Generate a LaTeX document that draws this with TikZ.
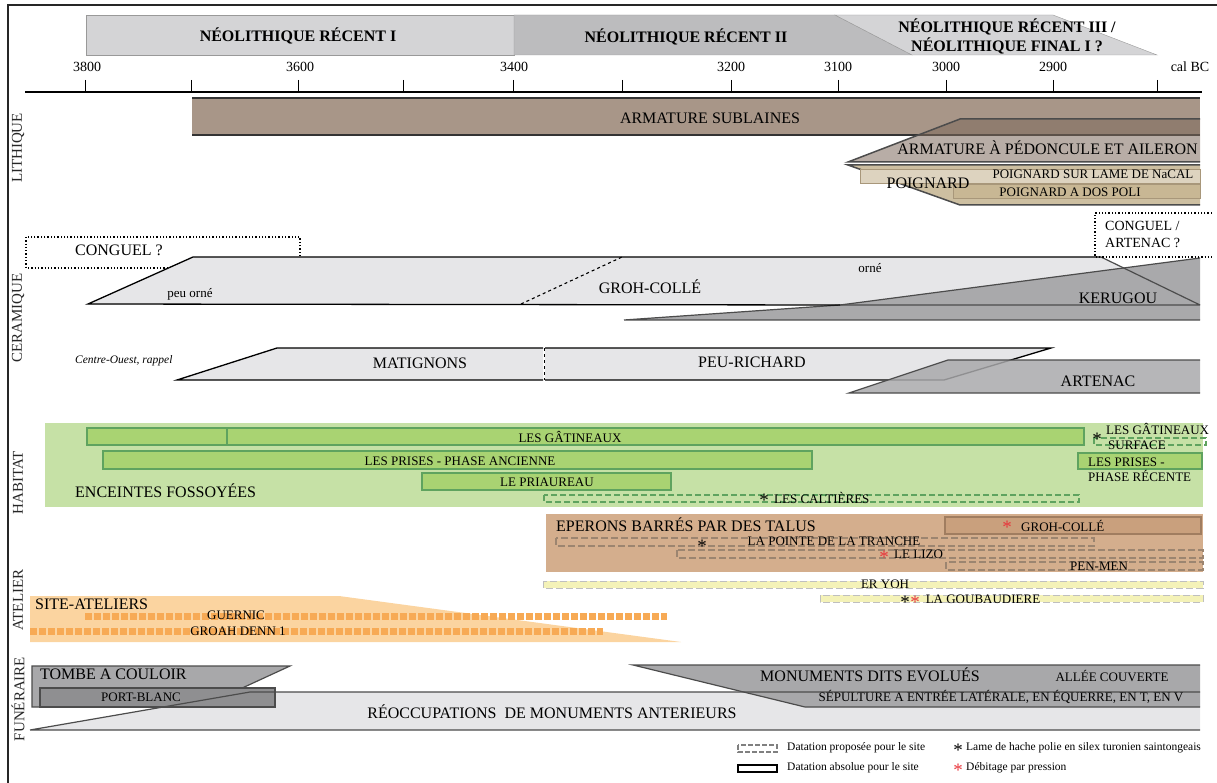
\documentclass[tikz,border=0pt]{standalone}
\usepackage{fontspec}
\setmainfont{Liberation Serif}
\usetikzlibrary{positioning}
% couleurs
\definecolor{hdrlight}{HTML}{D4D4D6}
\definecolor{hdrdark}{HTML}{BCBCBE}
\definecolor{lithbrown}{HTML}{A89688}
\definecolor{lithdark}{HTML}{7E6A5C}
\definecolor{poignard}{HTML}{CDBFA1}
\definecolor{nacal}{HTML}{DDD3BF}
\definecolor{dospoli}{HTML}{C8B794}
\definecolor{poignardline}{HTML}{A8977A}
\definecolor{ceralight}{HTML}{E6E6E8}
\definecolor{ceradark}{HTML}{A9A9AB}
\definecolor{habbg}{HTML}{C6E1A6}
\definecolor{habbar}{HTML}{A9D372}
\definecolor{habline}{HTML}{5FA35F}
\definecolor{eperon}{HTML}{D4AE8D}
\definecolor{eperonbar}{HTML}{C9A07D}
\definecolor{eperonline}{HTML}{A07D60}
\definecolor{epdashc}{HTML}{9C8570}
\definecolor{eryoh}{HTML}{F4F2B8}
\definecolor{atelier}{HTML}{FBD4A0}
\definecolor{atelierdash}{HTML}{F7AA55}
\definecolor{funedark}{HTML}{A8A8AA}
\definecolor{funeport}{HTML}{8F8F91}
\definecolor{starred}{HTML}{E8343A}
\begin{document}
\begin{tikzpicture}[x=1pt, y=-1pt,
  hdr/.style={font=\fontsize{16}{19}\selectfont\bfseries, align=center, inner sep=0pt},
  big/.style={font=\fontsize{16}{18}\selectfont, inner sep=0pt},
  mid/.style={font=\fontsize{14}{17}\selectfont, inner sep=0pt},
  sml/.style={font=\fontsize{13}{15}\selectfont, inner sep=0pt},
  tny/.style={font=\fontsize{11.5}{13}\selectfont, inner sep=0pt},
  sect/.style={rotate=90, font=\fontsize{15}{16}\selectfont, inner sep=0pt, text=black!85},
  star/.style={font=\fontsize{19}{19}\selectfont, inner sep=0pt},
  habbox/.style={draw=habline, fill=habbar, line width=1.6pt},
  habdash/.style={draw=habline, line width=1.5pt, dash pattern=on 6pt off 3pt},
  epdash/.style={draw=epdashc, line width=1.3pt, dash pattern=on 7pt off 3pt},
  yldash/.style={draw=black!25, fill=eryoh, line width=1pt, dash pattern=on 7pt off 3pt},
  oradash/.style={draw=atelierdash, line width=7pt, dash pattern=on 7pt off 2pt},
  edge/.style={draw=gray!60!black, line width=1.2pt}
]
\useasboundingbox (0,0) rectangle (1217,783);
\draw[line width=1.6pt, black!85] (8,783) -- (8,5) -- (1217,5);

% periodes
\filldraw[fill=hdrlight, draw=gray!80] (86,15) rectangle (514,55);
\filldraw[fill=hdrdark, draw=gray!80] (514,15) -- (835,15) -- (912,55) -- (514,55) -- cycle;
\filldraw[fill=hdrlight, draw=gray!80] (835,15) -- (1053,15) -- (1157,55) -- (912,55) -- cycle;
\node[hdr] (nr1) at (298,36) {NÉOLITHIQUE RÉCENT I};
\node[hdr] (nr2) at (686,37) {NÉOLITHIQUE RÉCENT II};
\node[hdr] (nr3) at (1007,36) {NÉOLITHIQUE RÉCENT III /\\NÉOLITHIQUE FINAL I ?};

% axe
\draw[line width=1.3pt] (25,92) -- (1202,92);
\foreach \x in {85,191,298,403,513,622,731,838,946,1053,1157}
  \draw[line width=1pt] (\x,80) -- (\x,92);
\foreach \x/\a in {87/3800,300/3600,514/3400,731/3200,838/3100,946/3000,1053/2900}
  \node[mid] (a\a) at (\x,67) {\a};
\node[mid] (calbc) at (1190,67) {cal BC};

% rubriques
\node[sect] (lith) at (18,148) {LITHIQUE};
\node[sect] (cera) at (18,318) {CERAMIQUE};
\node[sect] (habi) at (18,483) {HABITAT};
\node[sect] (atel) at (18,600) {ATELIER};
\node[sect] (fune) at (18,699) {FUNÉRAIRE};

% lithique
\fill[lithbrown] (192,98) rectangle (1200,135);
\draw[line width=2pt, black!80] (192,98) -- (1200,98) (192,135) -- (1200,135);
\fill[lithdark, fill opacity=0.55] (848,162) -- (960,119) -- (1200,119) -- (1200,162) -- cycle;
\draw[edge, line width=1.5pt] (1200,162) -- (848,162) -- (960,119) -- (1200,119);
\filldraw[fill=poignard, edge, line width=1.5pt] (1200,165) -- (848,165) -- (960,205) -- (1200,205);
\filldraw[fill=nacal, draw=poignardline] (860,169) rectangle (1200,183);
\filldraw[fill=dospoli, draw=poignardline] (953,184) rectangle (1200,198);
\node[big] (sublaines) at (710,118) {ARMATURE SUBLAINES};
\node[big, anchor=east] (pedoncule) at (1198,148) {ARMATURE À PÉDONCULE ET AILERON};
\node[big] (poign) at (928,183) {POIGNARD};
\node[sml] (nacalt) at (1093,174) {POIGNARD SUR LAME DE NaCAL};
\node[sml] (dospolit) at (1070,192) {POIGNARD A DOS POLI};

% ceramique
\draw[dotted, line width=1.3pt] (26,237) rectangle (300,268);
\node[big, anchor=west] (conguel) at (75,250) {CONGUEL ?};
\fill[ceralight] (88,304) -- (193,257) -- (1101,257) -- (1200,305) -- (88,305) -- cycle;
\fill[ceradark] (624,320) -- (840,305) -- (1200,258) -- (1200,320) -- cycle;
\draw[edge] (624,320) -- (840,305) -- (1200,258) (624,320) -- (1200,320);
\draw[line width=1.3pt] (840,305) -- (88,304) -- (193,257) -- (1101,257);
\draw[edge] (840,305) -- (1200,305) (1101,257) -- (1200,305);
\draw[dashed, line width=1.1pt] (521,304) -- (622,257);
\draw[dotted, line width=1.3pt] (1212,213) -- (1095,213) -- (1095,257) -- (1212,257);
\node[sml] (peuorne) at (190,294) {peu orné};
\node[big] (grohcolle) at (650,287) {GROH-COLLÉ};
\node[sml] (orne) at (870,268) {orné};
\node[big] (kerugou) at (1118,298) {KERUGOU};
\node[mid, anchor=west, align=left] (congart) at (1105,234) {CONGUEL /\\ARTENAC ?};

\filldraw[fill=ceralight, line width=1.3pt] (543,380) -- (177,380) -- (277,348) -- (543,348);
\filldraw[fill=ceralight, line width=1.3pt] (545,348) -- (1051,348) -- (944,380) -- (545,380);
\draw[dashed, line width=1pt] (544,348) -- (544,380);
\fill[ceradark, fill opacity=0.85] (849,393) -- (948,360) -- (1200,360) -- (1200,393) -- cycle;
\draw[edge] (1200,360) -- (948,360) -- (849,393) -- (1200,393);
\node[font=\fontsize{11.5}{13}\selectfont\itshape, inner sep=0pt, anchor=west] (rappel) at (75,361) {Centre-Ouest, rappel};
\node[big] (matignons) at (420,363) {MATIGNONS};
\node[big] (peurichard) at (752,362) {PEU-RICHARD};
\node[big] (artenac) at (1098,381) {ARTENAC};

% habitat
\fill[habbg] (45,423) rectangle (1203,507);
\filldraw[habbox] (87,428) rectangle (1084,445);
\draw[habline, line width=1.6pt] (227,428) -- (227,445);
\filldraw[habbox] (103,451) rectangle (812,469);
\filldraw[habbox] (422,473) rectangle (671,490);
\draw[habdash] (544,495) rectangle (1079,502);
\draw[habdash] (1094,438) rectangle (1206,445);
\filldraw[habbox] (1078,453) rectangle (1202,469);
\node[sml] (gatineaux) at (570,437) {LES GÂTINEAUX};
\node[sml] (prisesa) at (460,461) {LES PRISES - PHASE ANCIENNE};
\node[sml] (priaureau) at (547,482) {LE PRIAUREAU};
\node[star] (st1) at (764,500) {*};
\node[sml, anchor=west] (caltieres) at (774,498) {LES CALTIÈRES};
\node[star] (st2) at (1097,439) {*};
\node[sml, anchor=west] (gatsurf) at (1106,429) {LES GÂTINEAUX};
\node[sml, anchor=west] (surface) at (1108,445) {SURFACE};
\node[sml, anchor=west, align=left] (prisesr) at (1088,470) {LES PRISES -\\PHASE RÉCENTE};
\node[big, anchor=west] (enceintes) at (75,491) {ENCEINTES FOSSOYÉES};

% eperons
\fill[eperon] (546,514) rectangle (1203,572);
\filldraw[fill=eperonbar, draw=eperonline, line width=1.3pt] (945,517) rectangle (1201,534);
\draw[epdash] (556,538) rectangle (1094,546);
\draw[epdash] (677,550) rectangle (1203,558);
\draw[epdash] (946,562) rectangle (1203,570);
\node[big, anchor=west] (eperons) at (556,525) {EPERONS BARRÉS PAR DES TALUS};
\node[star, text=starred] (st3) at (1007,527) {*};
\node[sml, anchor=west] (grohc) at (1021,526) {GROH-COLLÉ};
\node[star] (st4) at (702,546) {*};
\node[sml] (pointe) at (834,541) {LA POINTE DE LA TRANCHE};
\node[star, text=starred] (st5) at (884,557) {*};
\node[sml, anchor=west] (lizo) at (894,554) {LE LIZO};
\node[sml] (penmen) at (1099,566) {PEN-MEN};

% atelier
\draw[yldash] (543,581) rectangle (1203,588);
\draw[yldash] (820,595) rectangle (1203,602);
\node[sml] (eryoht) at (885,584) {ER YOH};
\node[star] (st6) at (905,602) {*};
\node[star, text=starred] (st7) at (915,602) {*};
\node[sml] (goubau) at (983,599) {LA GOUBAUDIERE};
\fill[atelier] (30,596) -- (339,596) -- (681,642) -- (30,642) -- cycle;
\draw[oradash] (85,616) -- (667,616);
\draw[oradash] (30,631) -- (603,631);
\node[big, anchor=west] (siteat) at (35,604) {SITE-ATELIERS};
\node[sml] (guernic) at (236,615) {GUERNIC};
\node[sml] (groah) at (238,631) {GROAH DENN 1};

% funeraire
\fill[ceralight] (30,730) -- (250,692) -- (1200,692) -- (1200,730) -- cycle;
\filldraw[fill=funedark, edge] (32,666) -- (290,666) -- (201,707) -- (32,707) -- cycle;
\filldraw[fill=funeport, edge] (40,688) rectangle (275,707);
\filldraw[fill=funedark, edge] (1200,707) -- (805,707) -- (633,665) -- (1200,665);
\draw[edge] (30,730) -- (250,692) -- (1200,692) (30,730) -- (1200,730);
\node[big, anchor=west] (tombe) at (40,674) {TOMBE A COULOIR};
\node[sml] (portblanc) at (141,697) {PORT-BLANC};
\node[big] (reoccup) at (552,712) {RÉOCCUPATIONS~~DE MONUMENTS ANTERIEURS};
\node[big] (monuments) at (870,675) {MONUMENTS DITS EVOLUÉS};
\node[sml] (allee) at (1112,676) {ALLÉE COUVERTE};
\node[sml] (sepult) at (1001,697) {SÉPULTURE A ENTRÉE LATÉRALE, EN ÉQUERRE, EN T, EN V};

% legende
\draw[draw=gray, line width=1.2pt, dash pattern=on 5pt off 2pt] (738,745) rectangle (777,752);
\draw[line width=1.8pt] (738,765) rectangle (777,772);
\node[tny, anchor=west] (leg1) at (787,748) {Datation proposée pour le site};
\node[tny, anchor=west] (leg2) at (787,768) {Datation absolue pour le site};
\node[star] (st8) at (958,750) {*};
\node[tny, anchor=west] (leg3) at (966,748) {Lame de hache polie en silex turonien saintongeais};
\node[star, text=starred] (st9) at (958,770) {*};
\node[tny, anchor=west] (leg4) at (966,768) {Débitage par pression};
\end{tikzpicture}
\end{document}
